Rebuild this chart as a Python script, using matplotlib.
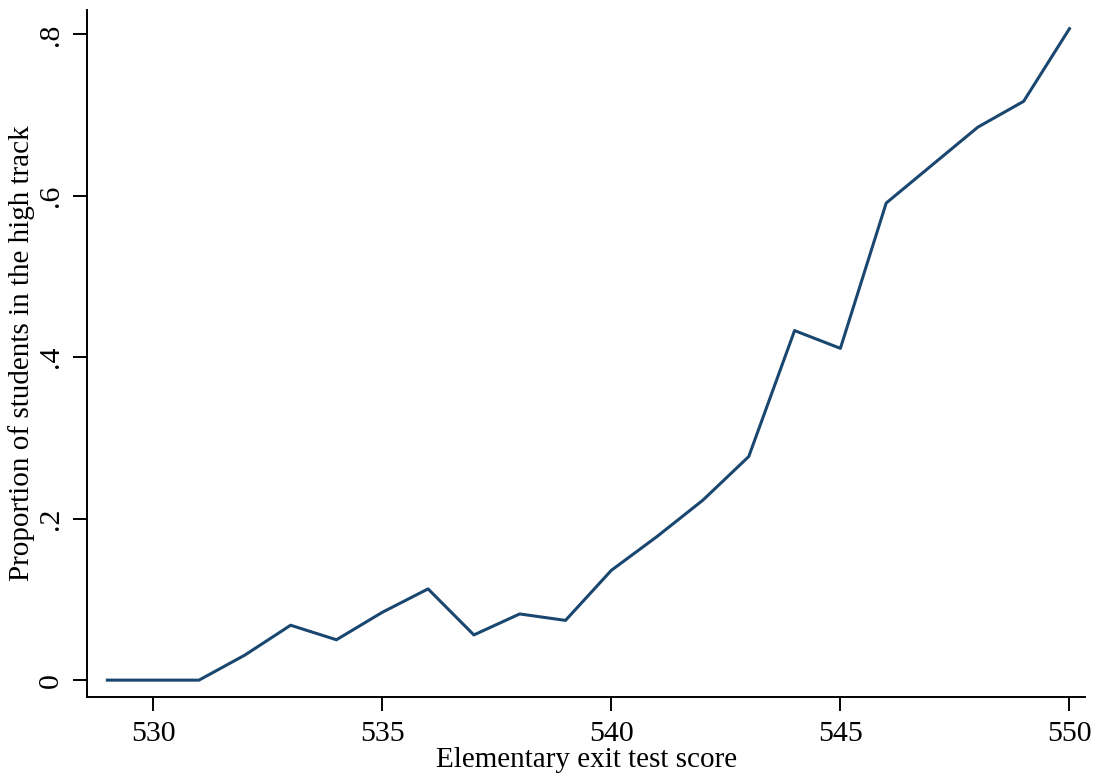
import matplotlib
matplotlib.use("Agg")
import matplotlib.pyplot as plt

plt.rcParams['font.family'] = ['Liberation Serif', 'DejaVu Serif']

# share of students placed in the high track by exit test score
scores = [529, 530, 531, 532, 533, 534, 535, 536, 537, 538, 539,
          540, 541, 542, 543, 544, 545, 546, 547, 548, 549, 550]
share_high = [0.0, 0.0, 0.0, 0.031, 0.068, 0.050, 0.084, 0.113, 0.056, 0.082, 0.074,
              0.136, 0.178, 0.223, 0.277, 0.433, 0.411, 0.591, 0.638, 0.685, 0.717, 0.807]

xticks = [530, 535, 540, 545, 550]
yticks = [0, 0.2, 0.4, 0.6, 0.8]
ylabels = ['0', '.2', '.4', '.6', '.8']

fig = plt.figure(figsize=(10.97, 7.78), dpi=100)
ax = fig.add_axes([0.0795, 0.104, 0.910, 0.883])

ax.plot(scores, share_high, color='#1a476f', linewidth=2.2)

ax.set_xlim(528.56, 550.35)
ax.set_ylim(-0.021, 0.830)

ax.spines['top'].set_visible(False)
ax.spines['right'].set_visible(False)
for s in ('left', 'bottom'):
    ax.spines[s].set_linewidth(1.4)

ax.set_xticks(xticks)
ax.set_yticks(yticks)
ax.set_yticklabels(ylabels, rotation=90, va='center')
ax.tick_params(axis='both', direction='out', length=10, width=1.4,
               labelsize=21.5, pad=7)

ax.set_xlabel('Elementary exit test score', fontsize=21, labelpad=0)
ax.set_ylabel('Proportion of students in the high track', fontsize=21, labelpad=2)

fig.savefig('out.png', dpi=100)
